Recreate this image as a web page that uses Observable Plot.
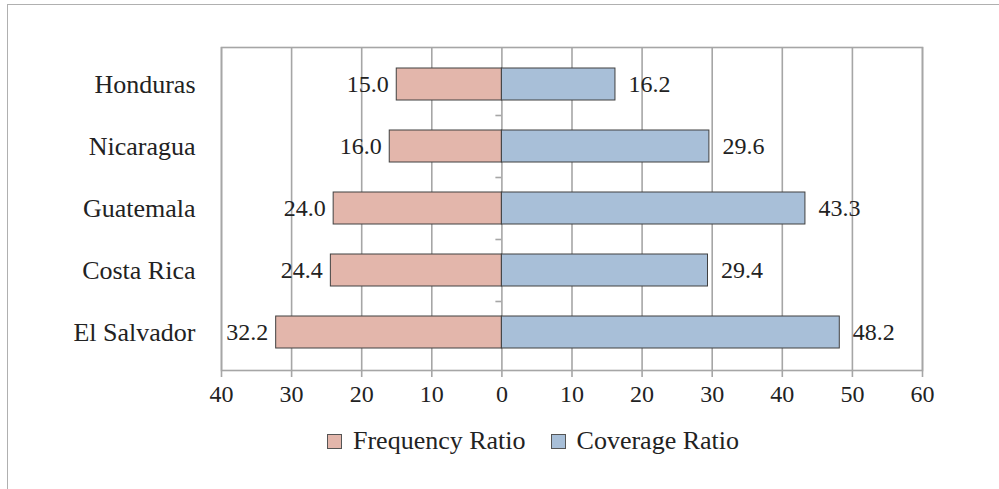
<!DOCTYPE html>
<html>
<head>
<meta charset="utf-8">
<script src="https://cdn.jsdelivr.net/npm/d3@7"></script>
<script src="https://cdn.jsdelivr.net/npm/@observablehq/plot@0.6"></script>
<style>
  html, body { margin: 0; padding: 0; background: #fff; overflow: hidden; }
  #page { position: relative; width: 999px; height: 489px; overflow: hidden; font-family: "Liberation Serif", "Times New Roman", serif; color: #222; }
  #border { position: absolute; left: 7px; top: 4px; width: 1200px; height: 800px; border: 1.5px solid #b0b0b0; box-sizing: border-box; }
  #chart { position: absolute; left: 0; top: 0; }
  #legend { position: absolute; left: 327px; top: 427px; display: flex; align-items: center; font-size: 26px; line-height: 28px; white-space: nowrap; }
  .item { display: flex; align-items: center; margin-right: 25px; }
  .swatch { width: 15px; height: 15px; box-sizing: border-box; border: 1px solid #555; margin-right: 11px; }
</style>
</head>
<body>
<div id="page">
  <div id="border"></div>
  <div id="chart"></div>
  <div id="legend"></div>
</div>
<script>
// Countries, top to bottom
const countries = ["Honduras", "Nicaragua", "Guatemala", "Costa Rica", "El Salvador"];
// Frequency ratio (drawn to the left of zero)
const frequency = [15.0, 16.0, 24.0, 24.4, 32.2];
// Coverage ratio (drawn to the right of zero)
const coverage = [16.2, 29.6, 43.3, 29.4, 48.2];
// Axis ticks; left side shown as absolute values
const xTicks = [-40, -30, -20, -10, 0, 10, 20, 30, 40, 50, 60];
const seriesNames = ["Frequency Ratio", "Coverage Ratio"];
const seriesColors = ["#e3b6ab", "#a8bfd8"];

const rows = countries.map((country, i) => ({country, frequency: frequency[i], coverage: coverage[i]}));

const gridColor = "#a6a6a6";
const edgeColor = "#404040";

const chart = Plot.plot({
  width: 999,
  height: 415,
  marginLeft: 221,
  marginRight: 77,
  marginTop: 47,
  marginBottom: 45,
  style: {fontFamily: "Liberation Serif, Times New Roman, serif", fontSize: "24px", color: "#222", background: "transparent", overflow: "visible"},
  x: {domain: [-40, 60], ticks: xTicks, tickFormat: d => Math.abs(d), label: null},
  y: {domain: countries, paddingInner: 0.484, paddingOuter: 0.242, insetTop: 6, insetBottom: 7, label: null},
  marks: [
    Plot.gridX(xTicks, {stroke: gridColor, strokeOpacity: 1, strokeWidth: 1.6}),
    Plot.frame({stroke: gridColor, strokeWidth: 1.6}),
    // category boundary ticks on the zero axis
    Plot.ruleY(countries.slice(0, -1), {y: d => d, x1: 0, x2: 0, insetLeft: -6, dy: 31, stroke: gridColor, strokeWidth: 1.6}),
    Plot.barX(rows, {y: "country", x1: 0, x2: d => -d.frequency, fill: seriesColors[0], stroke: edgeColor, strokeWidth: 1}),
    Plot.barX(rows, {y: "country", x1: 0, x2: d => d.coverage, fill: seriesColors[1], stroke: edgeColor, strokeWidth: 1}),
    Plot.text(rows, {y: "country", x: d => -d.frequency, text: d => d.frequency.toFixed(1), textAnchor: "end", dx: -8, fontSize: 24, fill: "#222"}),
    Plot.text(rows, {y: "country", x: d => d.coverage, text: d => d.coverage.toFixed(1), textAnchor: "start", dx: 13, fontSize: 24, fill: "#222"}),
    Plot.axisX({ticks: xTicks, tickFormat: d => Math.abs(d), tickSize: 7, tickPadding: 7, stroke: gridColor, strokeWidth: 1.6, fontSize: 24, fill: "#222", label: null}),
    Plot.axisY({tickSize: 0, tickPadding: 26, fontSize: 26, fill: "#222", label: null})
  ]
});
document.getElementById("chart").appendChild(chart);

const legend = document.getElementById("legend");
seriesNames.forEach((name, i) => {
  const item = document.createElement("div");
  item.className = "item";
  const sw = document.createElement("span");
  sw.className = "swatch";
  sw.style.background = seriesColors[i];
  const label = document.createElement("span");
  label.textContent = name;
  item.appendChild(sw);
  item.appendChild(label);
  legend.appendChild(item);
});
</script>
</body>
</html>
